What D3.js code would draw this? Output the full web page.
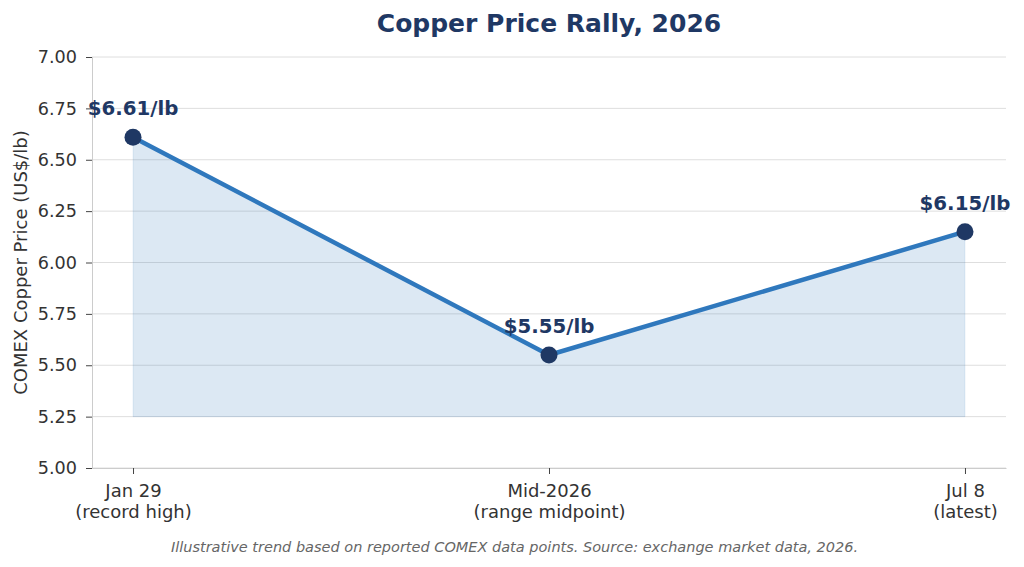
<!DOCTYPE html>
<html>
<head>
<meta charset="utf-8">
<script src="https://cdn.jsdelivr.net/npm/d3@7"></script>
<style>
  body { margin: 0; background: #fff; }
  svg text { font-family: "DejaVu Sans", sans-serif; }
</style>
</head>
<body>
<script>
// Data
var dateLabels = ["Jan 29", "Mid-2026", "Jul 8"];
var noteLabels = ["(record high)", "(range midpoint)", "(latest)"];
var prices = [6.61, 5.55, 6.15];
var yTicks = [5.00, 5.25, 5.50, 5.75, 6.00, 6.25, 6.50, 6.75, 7.00];
var fillBase = 5.25;

var margin = { top: 57, right: 18, bottom: 99, left: 92 },
    width = 1024 - margin.left - margin.right,
    height = 567 - margin.top - margin.bottom;

var svg = d3.select("body").append("svg")
    .attr("width", 1024)
    .attr("height", 567);

var g = svg.append("g")
    .attr("transform", "translate(" + margin.left + "," + margin.top + ")");

var x = d3.scalePoint()
    .domain(d3.range(dateLabels.length))
    .range([0, width])
    .padding(0.0986);

var y = d3.scaleLinear()
    .domain([5.0, 7.0])
    .range([height, 0]);

// Grid lines
g.append("g")
    .selectAll("line")
    .data(yTicks)
    .enter()
    .append("line")
    .attr("x1", 0)
    .attr("x2", width)
    .attr("y1", function (d) { return y(d); })
    .attr("y2", function (d) { return y(d); })
    .style("stroke", "#dedede")
    .style("stroke-width", 1);

// Y axis
var yAxis = g.append("g")
    .call(d3.axisLeft(y).tickValues(yTicks).tickFormat(d3.format(".2f")).tickSize(6).tickPadding(9));
yAxis.select(".domain").style("stroke", "#cccccc");
yAxis.selectAll(".tick line").style("stroke", "#444");
yAxis.selectAll("text")
    .style("font-family", "'DejaVu Sans', sans-serif")
    .style("font-size", "17.6px")
    .style("fill", "#333");

// X axis
var xAxis = g.append("g")
    .attr("transform", "translate(0," + height + ")")
    .call(d3.axisBottom(x).tickFormat("").tickSize(6).tickSizeOuter(0));
xAxis.select(".domain").style("stroke", "#cccccc");
xAxis.selectAll(".tick line").style("stroke", "#444");

xAxis.selectAll(".tick").each(function (d) {
    var t = d3.select(this).append("text")
        .attr("text-anchor", "middle")
        .style("font-family", "'DejaVu Sans', sans-serif")
        .style("font-size", "18px")
        .style("fill", "#333");
    t.append("tspan").attr("x", 0).attr("y", 29).text(dateLabels[d]);
    t.append("tspan").attr("x", 0).attr("y", 50).text(noteLabels[d]);
});

// Area fill
var area = d3.area()
    .x(function (d, i) { return x(i); })
    .y0(y(fillBase))
    .y1(function (d) { return y(d); });

g.append("path")
    .datum(prices)
    .attr("d", area)
    .style("fill", "#2e75b6")
    .style("fill-opacity", 0.17)
    .style("stroke", "#2e75b6")
    .style("stroke-opacity", 0.1)
    .style("stroke-width", 1);

// Line
var line = d3.line()
    .x(function (d, i) { return x(i); })
    .y(function (d) { return y(d); });

g.append("path")
    .datum(prices)
    .attr("d", line)
    .style("fill", "none")
    .style("stroke", "#2f78bd")
    .style("stroke-width", 4.5)
    .style("stroke-linejoin", "round");

// Dots
g.append("g")
    .selectAll("circle")
    .data(prices)
    .enter()
    .append("circle")
    .attr("cx", function (d, i) { return x(i); })
    .attr("cy", function (d) { return y(d); })
    .attr("r", 8.5)
    .style("fill", "#1f3864");

// Value labels
g.append("g")
    .selectAll("text")
    .data(prices)
    .enter()
    .append("text")
    .attr("x", function (d, i) { return x(i); })
    .attr("y", function (d) { return y(d) - 22; })
    .attr("text-anchor", "middle")
    .style("font-size", "19.8px")
    .style("font-weight", "bold")
    .style("fill", "#1f3864")
    .text(function (d) { return "$" + d.toFixed(2) + "/lb"; });

// Title
svg.append("text")
    .attr("x", margin.left + width / 2)
    .attr("y", 32)
    .attr("text-anchor", "middle")
    .style("font-size", "25px")
    .style("font-weight", "bold")
    .style("fill", "#1f3864")
    .text("Copper Price Rally, 2026");

// Y axis label
svg.append("text")
    .attr("transform", "translate(27," + (margin.top + height / 2) + ") rotate(-90)")
    .attr("text-anchor", "middle")
    .style("font-size", "18px")
    .style("fill", "#333")
    .text("COMEX Copper Price (US$/lb)");

// Footer note
svg.append("text")
    .attr("x", 514.5)
    .attr("y", 552)
    .attr("text-anchor", "middle")
    .style("font-size", "14.5px")
    .style("font-style", "italic")
    .style("fill", "#666")
    .text("Illustrative trend based on reported COMEX data points. Source: exchange market data, 2026.");
</script>
</body>
</html>
